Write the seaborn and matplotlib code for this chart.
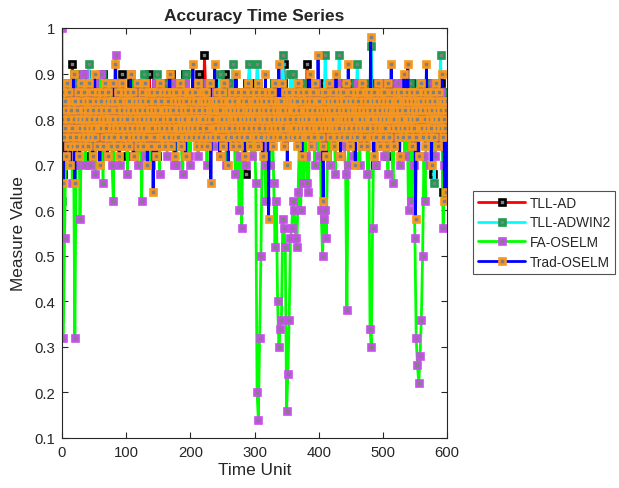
import numpy as np
import pandas as pd
import matplotlib
matplotlib.use("Agg")
import matplotlib.pyplot as plt
import seaborn as sns

# ---------------- data (values in hundredths) ----------------
# three series sampled every 2 time units, Trad-OSELM every time unit
time_unit_2 = list(range(0, 601, 2))
time_unit_1 = list(range(0, 601, 1))

tll_ad = [
    86, 68, 78, 82, 74, 88, 80, 76, 92, 84, 72, 86, 78, 82, 88, 74, 80, 84, 76, 90,
    78, 84, 72, 86, 80, 88, 74, 82, 78, 86, 84, 76, 90, 80, 74, 86, 82, 78, 88, 76,
    84, 80, 88, 74, 86, 78, 82, 90, 76, 84, 80, 72, 86, 82, 88, 78, 84, 76, 80, 86,
    82, 76, 88, 80, 84, 74, 86, 78, 90, 82, 76, 84, 80, 88, 72, 86, 78, 82, 84, 76,
    88, 80, 76, 84, 82, 90, 78, 86, 74, 82, 88, 80, 76, 84, 86, 78, 90, 82, 76, 84,
    80, 86, 78, 84, 88, 76, 82, 90, 80, 84, 78, 94, 86, 80, 76, 88, 82, 84, 78, 86,
    84, 78, 88, 82, 76, 86, 80, 90, 84, 78, 82, 86, 74, 88, 80, 84, 78, 82, 86, 80,
    76, 84, 82, 68, 88, 80, 78, 86, 84, 76, 82, 88, 80, 74, 86, 82, 78, 84, 80, 86,
    82, 78, 86, 80, 84, 88, 76, 82, 80, 86, 78, 84, 88, 92, 80, 76, 84, 82, 86, 78,
    84, 80, 86, 78, 82, 88, 76, 84, 80, 86, 82, 92, 78, 84, 88, 80, 76, 86, 82, 84,
    80, 86, 82, 78, 88, 84, 76, 82, 86, 80, 84, 78, 88, 82, 76, 86, 80, 84, 82, 88,
    78, 84, 86, 80, 82, 88, 76, 84, 80, 86, 82, 78, 88, 84, 80, 76, 86, 82, 84, 80,
    86, 82, 78, 84, 70, 88, 80, 84, 76, 86, 82, 80, 88, 72, 84, 78, 86, 82, 80, 84,
    82, 86, 78, 84, 80, 88, 76, 82, 86, 80, 84, 78, 88, 82, 76, 84, 80, 86, 82, 78,
    84, 80, 86, 78, 82, 88, 80, 76, 84, 68, 82, 86, 80, 78, 84, 88, 82, 64, 80, 86,
    84,
]

tll_adwin2 = [
    62, 84, 78, 88, 80, 76, 86, 82, 74, 90, 84, 78, 88, 90, 80, 76, 86, 82, 78, 84,
    86, 92, 80, 84, 76, 88, 82, 78, 86, 80, 84, 90, 78, 82, 86, 76, 84, 88, 80, 82,
    76, 84, 80, 86, 82, 78, 88, 80, 84, 76, 86, 82, 78, 84, 80, 86, 82, 78, 84, 80,
    86, 82, 78, 84, 90, 80, 86, 76, 82, 84, 78, 86, 80, 84, 90, 82, 78, 86, 80, 84,
    88, 82, 84, 78, 86, 80, 84, 76, 88, 82, 80, 86, 78, 84, 82, 80, 88, 90, 78, 84,
    80, 86, 82, 78, 84, 88, 80, 84, 76, 82, 86, 80, 88, 84, 78, 82, 86, 80, 84, 78,
    86, 82, 84, 90, 80, 78, 86, 82, 84, 80, 88, 78, 84, 92, 82, 80, 86, 84, 78, 82,
    84, 80, 86, 82, 78, 88, 92, 84, 86, 82, 78, 84, 92, 88, 82, 84, 78, 86, 80, 84,
    82, 86, 80, 84, 78, 88, 82, 80, 86, 84, 78, 82, 94, 86, 80, 84, 82, 78, 90, 86,
    90, 84, 80, 86, 82, 78, 84, 88, 80, 86, 82, 84, 78, 86, 80, 84, 88, 82, 78, 84,
    82, 86, 80, 84, 78, 94, 86, 82, 84, 80, 86, 82, 78, 84, 80, 86, 94, 82, 84, 80,
    86, 82, 84, 80, 78, 86, 82, 84, 88, 80, 92, 84, 82, 78, 86, 84, 80, 88, 82, 84,
    84, 96, 80, 86, 82, 78, 84, 86, 80, 82, 88, 84, 78, 86, 82, 80, 84, 88, 82, 80,
    84, 86, 80, 82, 88, 84, 78, 86, 82, 80, 84, 88, 82, 78, 84, 86, 80, 82, 84, 88,
    82, 84, 80, 86, 78, 84, 82, 88, 80, 84, 66, 82, 86, 80, 84, 94, 82, 86, 80, 84,
    82,
]

fa_oselm = [
    100, 32, 54, 76, 84, 72, 80, 88, 66, 76, 32, 70, 82, 86, 58, 74, 80, 90, 70, 84,
    78, 86, 70, 82, 76, 88, 68, 80, 84, 74, 90, 78, 66, 86, 80, 72, 84, 76, 88, 70,
    62, 82, 94, 76, 84, 70, 88, 80, 74, 86, 78, 68, 84, 80, 90, 72, 82, 76, 86, 70,
    80, 84, 62, 76, 88, 72, 82, 78, 86, 70, 84, 80, 74, 88, 76, 82, 68, 86, 80, 74,
    84, 78, 72, 86, 80, 76, 88, 70, 82, 70, 84, 78, 86, 74, 68, 80, 88, 76, 82, 72,
    70, 86, 80, 76, 84, 88, 72, 82, 78, 86, 74, 80, 84, 70, 88, 76, 82, 78, 86, 74,
    82, 78, 86, 72, 84, 80, 76, 88, 70, 82, 84, 74, 86, 78, 80, 68, 84, 76, 60, 72,
    56, 78, 84, 70, 82, 86, 76, 80, 72, 84, 78, 66, 20, 14, 32, 50, 74, 80, 70, 62,
    76, 82, 70, 84, 78, 66, 52, 62, 40, 30, 34, 36, 58, 56, 52, 16, 24, 36, 54, 56,
    62, 60, 54, 52, 64, 76, 60, 82, 66, 84, 72, 66, 64, 80, 86, 74, 82, 70, 88, 78,
    72, 80, 60, 50, 58, 60, 54, 76, 84, 70, 86, 78, 82, 68, 88, 76, 84, 72, 80, 86,
    74, 68, 38, 70, 82, 78, 86, 72, 84, 80, 76, 88, 70, 82, 78, 86, 74, 84, 68, 80,
    34, 30, 56, 78, 84, 70, 82, 86, 74, 80, 88, 72, 84, 78, 68, 82, 86, 74, 66, 80,
    84, 76, 88, 70, 82, 78, 86, 72, 84, 80, 60, 76, 62, 84, 70, 54, 32, 26, 22, 28,
    36, 50, 72, 62, 84, 78, 86, 70, 82, 76, 88, 72, 80, 84, 74, 86, 78, 56, 70, 74,
    80,
]

trad_oselm = [
    86, 80, 66, 76, 84, 78, 72, 82, 88, 74, 80, 86, 76, 70, 82, 78, 84, 74, 90, 80,
    66, 84, 76, 82, 74, 86, 80, 72, 78, 84, 88, 76, 80, 74, 86, 82, 78, 84, 76, 80,
    82, 74, 88, 78, 84, 76, 80, 86, 72, 82, 78, 90, 76, 84, 80, 74, 86, 78, 82, 70,
    78, 84, 80, 86, 74, 82, 76, 88, 80, 78, 84, 72, 86, 76, 82, 80, 74, 84, 78, 88,
    80, 76, 84, 92, 78, 82, 74, 86, 80, 72, 84, 78, 76, 82, 88, 80, 74, 86, 78, 84,
    76, 82, 80, 86, 74, 84, 78, 90, 82, 76, 80, 86, 72, 84, 78, 82, 76, 88, 80, 74,
    84, 78, 82, 76, 86, 80, 74, 84, 78, 88, 82, 76, 80, 70, 84, 78, 86, 82, 74, 80,
    78, 86, 64, 82, 76, 84, 80, 72, 86, 78, 82, 74, 88, 80, 76, 84, 78, 82, 86, 76,
    82, 74, 80, 86, 78, 84, 76, 82, 90, 80, 74, 86, 78, 82, 76, 84, 72, 80, 86, 78,
    84, 76, 82, 78, 88, 80, 74, 84, 78, 86, 82, 76, 80, 72, 84, 78, 86, 82, 76, 80,
    86, 78, 84, 80, 92, 82, 76, 86, 78, 84, 74, 80, 88, 76, 82, 78, 84, 80, 74, 86,
    80, 84, 76, 82, 78, 86, 74, 84, 80, 76, 82, 88, 66, 80, 84, 76, 82, 78, 92, 84,
    78, 82, 86, 76, 84, 80, 72, 82, 78, 86, 80, 74, 84, 88, 78, 82, 76, 80, 84, 70,
    82, 78, 84, 80, 76, 86, 82, 74, 80, 84, 78, 90, 76, 82, 86, 80, 74, 84, 78, 82,
    76, 84, 80, 86, 78, 72, 82, 84, 76, 80, 88, 78, 82, 74, 86, 80, 84, 76, 82, 78,
    84, 80, 76, 86, 82, 74, 88, 78, 84, 80, 76, 82, 86, 72, 80, 84, 78, 90, 82, 76,
    80, 86, 58, 84, 78, 82, 76, 86, 80, 74, 84, 78, 88, 82, 76, 80, 84, 78, 92, 82,
    76, 84, 80, 88, 78, 82, 74, 86, 80, 76, 84, 70, 82, 78, 86, 80, 84, 76, 82, 78,
    84, 78, 82, 76, 86, 80, 74, 84, 88, 78, 82, 76, 80, 86, 72, 84, 78, 82, 80, 76,
    82, 86, 78, 84, 76, 80, 90, 82, 74, 84, 78, 86, 80, 76, 82, 88, 78, 84, 80, 94,
    84, 78, 82, 76, 86, 80, 74, 62, 82, 78, 86, 80, 72, 84, 78, 82, 88, 76, 80, 84,
    78, 82, 86, 80, 74, 84, 78, 90, 82, 76, 80, 86, 78, 84, 72, 80, 82, 76, 86, 80,
    84, 78, 82, 88, 76, 80, 92, 84, 78, 74, 82, 86, 80, 76, 84, 78, 82, 70, 86, 80,
    76, 82, 84, 78, 86, 80, 74, 82, 88, 78, 84, 76, 80, 86, 82, 74, 78, 84, 80, 86,
    82, 98, 80, 76, 84, 78, 72, 86, 82, 80, 76, 84, 78, 88, 80, 74, 82, 86, 78, 84,
    80, 76, 86, 82, 78, 84, 74, 80, 88, 82, 76, 84, 80, 92, 78, 86, 82, 74, 80, 84,
    78, 82, 86, 76, 84, 80, 72, 82, 78, 86, 80, 84, 76, 90, 82, 78, 84, 80, 86, 92,
    80, 76, 84, 78, 82, 86, 74, 80, 84, 78, 82, 58, 76, 86, 80, 84, 72, 82, 78, 88,
    84, 78, 82, 76, 86, 80, 74, 84, 92, 78, 82, 86, 76, 80, 84, 78, 70, 82, 86, 80,
    76, 84, 80, 88, 78, 82, 74, 86, 80, 84, 78, 82, 90, 76, 84, 80, 62, 78, 64, 82,
    84,
]

series_names = ["TLL-AD", "TLL-ADWIN2", "FA-OSELM", "Trad-OSELM"]
series_values = [tll_ad, tll_adwin2, fa_oselm, trad_oselm]
series_x = [time_unit_2, time_unit_2, time_unit_2, time_unit_1]
line_colors = ["#ff0000", "#00ffff", "#00ff00", "#0000ff"]
marker_edge_colors = ["#000000", "#1f9a4e", "#c650e8", "#f7971e"]

x_ticks = [0, 100, 200, 300, 400, 500, 600]
y_ticks = [0.1, 0.2, 0.3, 0.4, 0.5, 0.6, 0.7, 0.8, 0.9, 1.0]
y_tick_labels = ["0.1", "0.2", "0.3", "0.4", "0.5", "0.6", "0.7", "0.8", "0.9", "1"]

# ---------------- style ----------------
sns.set_theme(style="white")
plt.rcParams["font.family"] = ["Liberation Sans", "DejaVu Sans"]
plt.rcParams["axes.edgecolor"] = "#262626"
plt.rcParams["xtick.color"] = "#262626"
plt.rcParams["ytick.color"] = "#262626"
plt.rcParams["text.color"] = "#262626"
plt.rcParams["axes.labelcolor"] = "#262626"

fig = plt.figure(figsize=(6.19, 4.89), dpi=100)
ax = fig.add_axes([62 / 619, 50 / 489, 385 / 619, 410 / 489])

for name, xs, vals, lc, mec in zip(series_names, series_x, series_values,
                                   line_colors, marker_edge_colors):
    df = pd.DataFrame({"Time Unit": xs, "Measure Value": np.array(vals) / 100.0})
    sns.lineplot(
        data=df, x="Time Unit", y="Measure Value", ax=ax,
        estimator=None, errorbar=None, sort=False,
        color=lc, linewidth=2.0, label=name,
        marker="s", markersize=4.4, markeredgewidth=1.9,
        markerfacecolor="#808080", markeredgecolor=mec,
    )

ax.set_xlim(0, 600)
ax.set_ylim(0.1, 1.0)
ax.set_xticks(x_ticks)
ax.set_yticks(y_ticks)
ax.set_yticklabels(y_tick_labels)
ax.tick_params(direction="in", length=4, width=0.8, labelsize=10.7,
               top=True, right=True, bottom=True, left=True, pad=5)
for sp in ax.spines.values():
    sp.set_linewidth(0.8)
    sp.set_color("#262626")

ax.set_title("Accuracy Time Series", fontsize=12.5, fontweight="bold", pad=6)
ax.set_xlabel("Time Unit", fontsize=12.4, labelpad=2)
ax.set_ylabel("Measure Value", fontsize=12.4, labelpad=6)

leg = ax.legend(
    loc="upper left", bbox_to_anchor=(473 / 619, 1 - 192 / 489),
    bbox_transform=fig.transFigure, borderaxespad=0,
    fontsize=9.8, frameon=True, fancybox=False, edgecolor="#262626",
    handlelength=3.5, handletextpad=0.3, labelspacing=0.42,
    borderpad=0.35,
)
leg.get_frame().set_linewidth(0.8)

fig.savefig("out.png", dpi=100)
